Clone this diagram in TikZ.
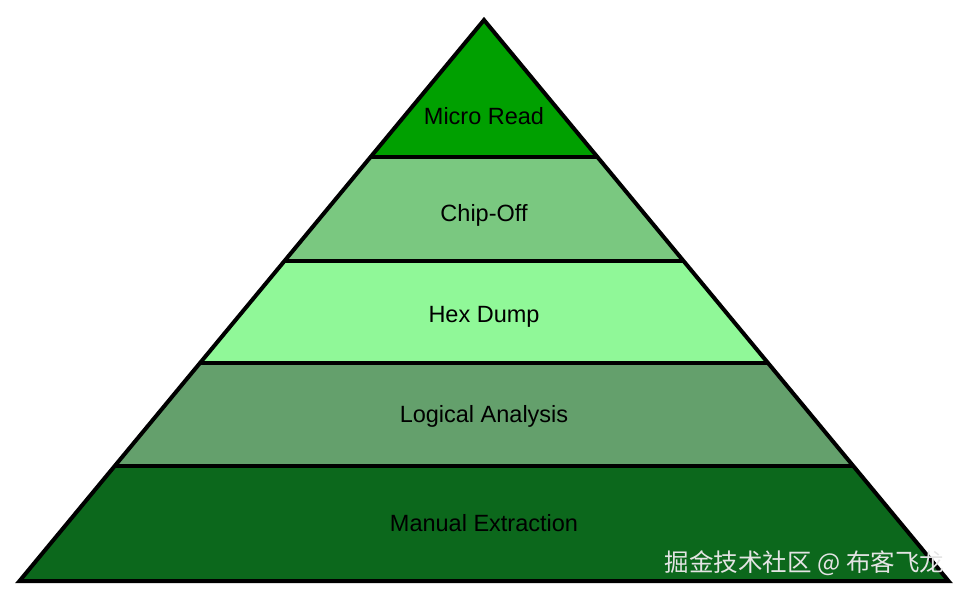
\documentclass[tikz,border=0pt]{standalone}
\usepackage{fontspec}
\setmainfont{Liberation Sans}
\newfontfamily\cjkfont{Noto Sans CJK SC}
\usepackage{tikz}
\usetikzlibrary{positioning}
\definecolor{microc}{RGB}{0,160,0}
\definecolor{chipc}{RGB}{122,200,128}
\definecolor{hexc}{RGB}{144,248,152}
\definecolor{logc}{RGB}{100,160,108}
\definecolor{manc}{RGB}{12,104,28}
\definecolor{markc}{RGB}{228,228,228}

\begin{document}
\begin{tikzpicture}[x=1pt,y=-1pt,line width=4pt]
\tikzstyle{lbl} = [font=\fontsize{23.5}{28}\selectfont,text=black,anchor=base,inner sep=0pt]
\tikzstyle{wm} = [font=\cjkfont\fontsize{24.5}{28}\selectfont,text=markc,anchor=base east,inner sep=0pt]
    \useasboundingbox (0,0) rectangle (966,595);
    % layers, top to bottom
    \foreach \ya/\yb/\col in {20/157/microc,157/261/chipc,261/363/hexc,363/466/logc,466/581/manc}
        \fill[\col] ({484-(\ya-20)*0.828},\ya) -- ({484+(\ya-20)*0.828},\ya)
            -- ({484+(\yb-20)*0.828},\yb) -- ({484-(\yb-20)*0.828},\yb) -- cycle;
    \foreach \y in {157,261,363,466}
        \draw ({484-(\y-20)*0.828},\y) -- ({484+(\y-20)*0.828},\y);
    \coordinate (apex) at (484,20);
    \coordinate (baseL) at ({484-561*0.828},581);
    \coordinate (baseR) at ({484+561*0.828},581);
    \draw (apex) -- (baseL) -- (baseR) -- cycle;

    \node[lbl] (micro) at (484,124.5) {Micro Read};
    \node[lbl] (chip) at (484,221.5) {Chip-Off};
    \node[lbl] (hex) at (484,322.5) {Hex Dump};
    \node[lbl] (logic) at (484,422) {Logical Analysis};
    \node[lbl] (manual) at (484,531.5) {Manual Extraction};
    \node[wm] (wmark) at (946,571) {掘金技术社区 @ 布客飞龙};
\end{tikzpicture}
\end{document}
